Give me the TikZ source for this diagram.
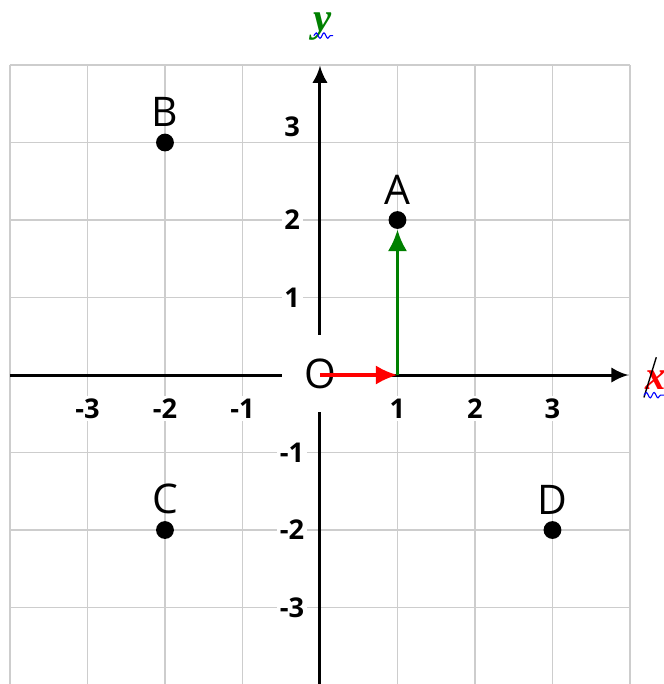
\documentclass[tikz,border=0pt]{standalone}
\usepackage{fontspec}
\setmainfont{Open Sans}
\newfontfamily\axisfont{Liberation Serif}
\usetikzlibrary{arrows.meta,decorations.pathmorphing}
\definecolor{gridgray}{RGB}{205,205,205}
\definecolor{vecgreen}{RGB}{0,128,0}
\begin{document}
\begin{tikzpicture}[
    tick/.style={font=\fontsize{10}{12}\selectfont\bfseries, fill=white, inner sep=1pt},
    dot/.style={circle, fill=black, inner sep=0pt, minimum size=2.3mm},
    ptname/.style={font=\fontsize{15}{16}\selectfont, label distance=-0.4mm},
    axlabel/.style={font=\axisfont\bfseries\itshape\fontsize{15}{15}\selectfont, inner sep=0pt},
    axis/.style={line width=1.1pt, -{Latex[length=2.2mm,width=2mm]}},
    vec/.style={line width=1.2pt, -{Latex[length=2.8mm,width=2.5mm]}},
    squiggle/.style={blue, line width=0.4pt, decorate,
      decoration={snake, amplitude=0.35mm, segment length=1mm}}]
  \useasboundingbox (-4.129,-3.987) rectangle (4.439,4.839);
  % grid
  \draw[gridgray, line width=0.7pt] (-4,-4) grid (4,4);
  % axes
  \coordinate (xs) at (-4,0);
  \coordinate (xe) at (3.98,0);
  \coordinate (ys) at (0,-4);
  \coordinate (ye) at (0,3.99);
  \draw[axis] (xs) -- (xe);
  \draw[axis] (ys) -- (ye);
  \node[axlabel, text=vecgreen] (ylab) at (0.03,4.5) {y};
  \draw[squiggle] (-0.08,4.38) -- (0.17,4.38);
  \node[axlabel, text=red] (xlab) at (4.33,-0.06) {x};
  \draw[line width=0.5pt] (4.18,-0.29) -- (4.34,0.23);
  \draw[squiggle] (4.18,-0.26) -- (4.44,-0.26);
  % tick labels
  \foreach \k in {-3,-2,-1,1,2,3} {
    \node[tick] (xt\k) at (\k,-0.43) {\k};
  }
  \foreach \k in {-3,-2,-1,1,2} {
    \node[tick] (yt\k) at (-0.36,\k) {\k};
  }
  \node[tick] (yt3) at (-0.36,3.2) {3};
  % origin
  \node[fill=white, minimum width=0.98cm, minimum height=1cm, inner sep=0pt,
        font=\fontsize{15}{16}\selectfont] (O) at (0,0.02) {O};
  \coordinate (P) at (1,0);
  % points
  \node[dot, label={[ptname]above:A}] (A) at (1,2) {};
  \node[dot, label={[ptname]above:B}] (B) at (-2,3) {};
  \node[dot, label={[ptname]above:C}] (C) at (-2,-2) {};
  \node[dot, label={[ptname]above:D}] (D) at (3,-2) {};
  % vectors
  \draw[vec, red] (0,0) -- (P);
  \draw[vec, vecgreen] (P) -- (A);
\end{tikzpicture}
\end{document}
